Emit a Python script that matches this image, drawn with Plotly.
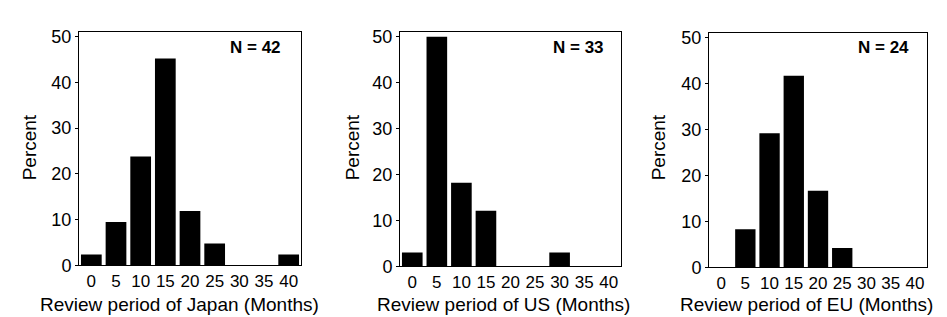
import plotly.graph_objects as go

categories = ["0", "5", "10", "15", "20", "25", "30", "35", "40"]
japan = [2.4, 9.5, 23.8, 45.2, 11.9, 4.8, 0, 0, 2.4]
us = [3.0, 50.0, 18.2, 12.1, 0, 0, 3.0, 0, 0]
eu = [0, 8.3, 29.2, 41.7, 16.7, 4.2, 0, 0, 0]
y_ticks = [0, 10, 20, 30, 40, 50]
titles = ["Review period of Japan (Months)", "Review period of US (Months)", "Review period of EU (Months)"]
n_labels = ["N = 42", "N = 33", "N = 24"]

W, H = 947, 317
FONT = "Liberation Sans, Arial, sans-serif"

# panel frames in pixels (left, right, top, bottom)
frames = [(71, 293, 20, 265), (392, 613, 20, 266), (701, 919, 21, 267)]
xtitle_x = [171, 495, 798]
ytitle_x = [21, 344, 650]
n_right = [275, 598, 903]

fig = go.Figure()
series = [japan, us, eu]
for i, (vals, (l, r, t, b)) in enumerate(zip(series, frames)):
    sfx = "" if i == 0 else str(i + 1)
    fig.add_trace(go.Bar(
        x=categories, y=vals, xaxis="x" + sfx, yaxis="y" + sfx,
        marker=dict(color="black", line=dict(width=0)), width=0.84,
        showlegend=False,
    ))
    xd = [l / W, r / W]
    yd = [1 - b / H, 1 - t / H]
    fig.update_layout(**{
        "xaxis" + sfx: dict(
            domain=xd, anchor="y" + sfx, type="category", range=[-0.5, 8.5],
            showline=True, mirror=True, linecolor="black", linewidth=1,
            showgrid=False, ticks="", tickfont=dict(family=FONT, size=17, color="black"),
        ),
        "yaxis" + sfx: dict(
            domain=yd, anchor="x" + sfx, range=[0, 51], tickvals=y_ticks,
            showline=True, mirror=True, linecolor="black", linewidth=1,
            showgrid=False, zeroline=False, ticks="outside", ticklen=3, tickcolor="black",
            tickfont=dict(family=FONT, size=18, color="black"),
        ),
    })
    # x-axis title
    fig.add_annotation(
        text=titles[i], xref="paper", yref="paper",
        x=xtitle_x[i] / W, y=1 - 306 / H, xanchor="center", yanchor="middle", showarrow=False,
        font=dict(family=FONT, size=19, color="black"),
    )
    # y-axis title
    fig.add_annotation(
        text="Percent", xref="paper", yref="paper", textangle=-90,
        x=ytitle_x[i] / W, y=1 - 141 / H, xanchor="center", yanchor="middle", showarrow=False,
        font=dict(family=FONT, size=19, color="black"),
    )
    # N label
    fig.add_annotation(
        text="<b>" + n_labels[i] + "</b>", xref="paper", yref="paper",
        x=n_right[i] / W, y=1 - 36 / H, xanchor="right", yanchor="middle", showarrow=False,
        font=dict(family=FONT, size=17, color="black"),
    )

fig.update_layout(
    width=W, height=H, margin=dict(l=0, r=0, t=0, b=0),
    plot_bgcolor="white", paper_bgcolor="white", bargap=0.16,
)
fig.write_html("out.html")
